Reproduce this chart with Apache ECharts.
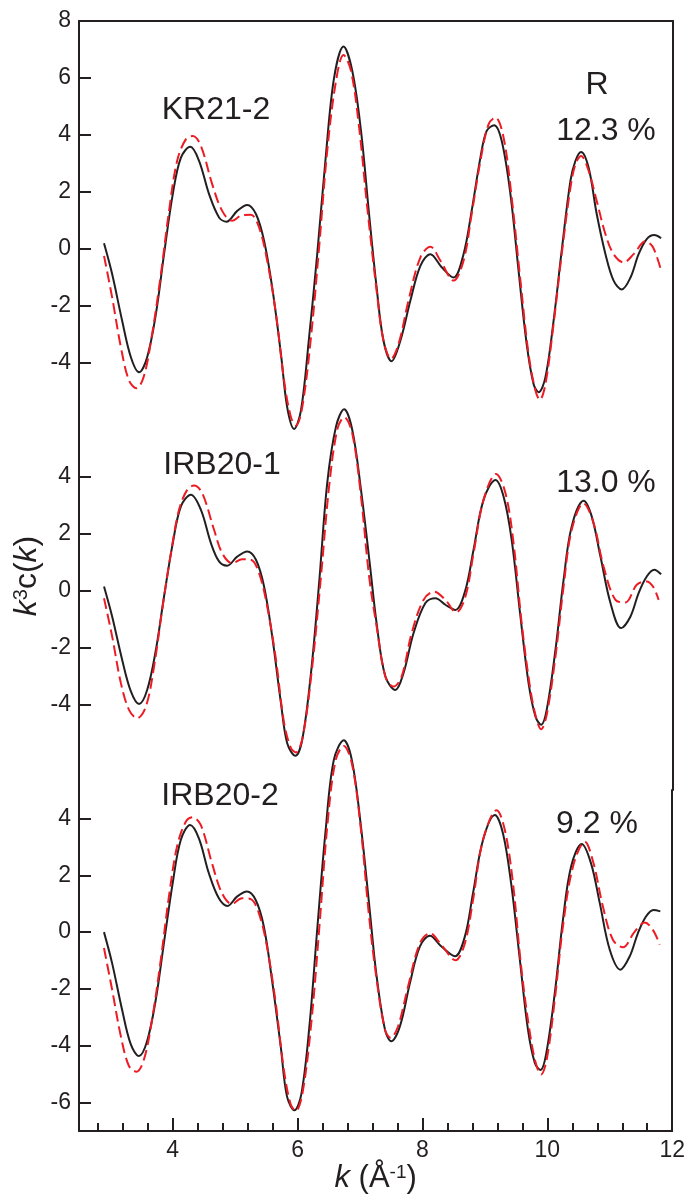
<!DOCTYPE html>
<html><head><meta charset="utf-8">
<script src="https://cdn.jsdelivr.net/npm/echarts@6/dist/echarts.min.js"></script>
<style>html,body{margin:0;padding:0;background:#fff}#c{width:688px;height:1195px}</style>
</head><body><div id="c"></div>
<script>
// ---- axis ticks / labels ----
const kMajorTicks = [4, 6, 8, 10, 12];
const kMinorTicks = [2.8, 3.2, 3.6, 4.4, 4.8, 5.2, 5.6, 6.4, 6.8, 7.2, 7.6, 8.4, 8.8, 9.2, 9.6, 10.4, 10.8, 11.2, 11.6];
const yTicksKR21_2 = [-4, -2, 0, 2, 4, 6, 8];
const yTicksIRB20_1 = [-4, -2, 0, 2, 4];
const yTicksIRB20_2 = [-6, -4, -2, 0, 2, 4];
const sampleNames = ['KR21-2', 'IRB20-1', 'IRB20-2'];
const rFactors = ['12.3 %', '13.0 %', '9.2 %'];

// ---- data: [k, k^3 chi(k)] ----
const expKR21_2 = [[2.90,0.19],[3.03,-0.89],[3.19,-2.53],[3.33,-3.81],[3.46,-4.34],[3.59,-3.81],[3.73,-2.29],[3.86,-0.19],[4.00,1.92],[4.13,3.20],[4.28,3.58],[4.42,3.09],[4.58,1.92],[4.74,1.10],[4.86,0.95],[5.03,1.33],[5.19,1.54],[5.33,1.22],[5.46,0.28],[5.59,-1.36],[5.73,-3.70],[5.83,-5.57],[5.94,-6.33],[6.05,-5.68],[6.18,-3.11],[6.31,-0.19],[6.45,3.32],[6.58,6.01],[6.73,7.10],[6.87,6.25],[7.01,4.14],[7.14,1.20],[7.26,-1.36],[7.37,-3.23],[7.50,-3.95],[7.64,-3.23],[7.80,-1.82],[7.96,-0.60],[8.12,-0.19],[8.30,-0.65],[8.49,-1.01],[8.65,-0.19],[8.78,1.33],[8.92,3.20],[9.02,4.14],[9.14,4.34],[9.26,3.79],[9.40,1.92],[9.53,-0.77],[9.66,-3.35],[9.77,-4.75],[9.85,-5.04],[9.96,-4.51],[10.09,-2.53],[10.22,-0.07],[10.36,2.39],[10.44,3.09],[10.53,3.40],[10.65,2.85],[10.78,1.22],[10.92,-0.19],[11.05,-1.12],[11.18,-1.43],[11.32,-1.01],[11.45,-0.19],[11.58,0.34],[11.70,0.48],[11.81,0.37]];
const fitKR21_2 = [[2.90,-0.25],[3.03,-1.71],[3.17,-3.46],[3.30,-4.63],[3.42,-4.90],[3.54,-4.46],[3.67,-2.99],[3.81,-0.89],[3.94,1.33],[4.07,3.09],[4.21,3.85],[4.32,3.96],[4.45,3.61],[4.63,2.27],[4.79,1.33],[4.95,0.98],[5.11,1.18],[5.25,1.19],[5.38,0.75],[5.51,-0.42],[5.65,-2.29],[5.78,-4.63],[5.89,-5.92],[5.97,-6.21],[6.07,-5.57],[6.21,-3.11],[6.34,0.05],[6.47,3.44],[6.61,5.89],[6.73,6.81],[6.85,6.25],[6.98,4.26],[7.11,1.45],[7.26,-1.47],[7.37,-3.23],[7.49,-3.87],[7.61,-3.35],[7.77,-1.82],[7.96,-0.30],[8.12,0.07],[8.28,-0.42],[8.49,-1.12],[8.65,-0.42],[8.78,1.22],[8.92,3.09],[9.05,4.37],[9.16,4.61],[9.29,3.91],[9.42,1.80],[9.56,-1.12],[9.69,-3.70],[9.80,-4.98],[9.87,-5.31],[9.96,-4.75],[10.09,-2.64],[10.22,-0.19],[10.36,2.15],[10.44,2.97],[10.53,3.26],[10.65,2.74],[10.78,1.68],[10.92,0.51],[11.05,-0.19],[11.21,-0.48],[11.37,-0.19],[11.56,0.26],[11.68,0.05],[11.81,-0.77]];
const expIRB20_1 = [[2.90,0.14],[3.03,-0.91],[3.19,-2.43],[3.33,-3.54],[3.46,-3.98],[3.59,-3.49],[3.73,-2.08],[3.86,-0.21],[4.00,1.66],[4.13,2.95],[4.29,3.36],[4.45,2.83],[4.61,1.66],[4.74,1.02],[4.87,0.87],[5.03,1.19],[5.19,1.37],[5.33,1.08],[5.46,0.14],[5.59,-1.61],[5.73,-3.95],[5.83,-5.36],[5.96,-5.80],[6.07,-5.24],[6.21,-2.90],[6.34,0.26],[6.47,3.77],[6.61,5.75],[6.74,6.36],[6.87,5.64],[7.01,3.53],[7.15,0.95],[7.26,-1.15],[7.40,-3.02],[7.56,-3.49],[7.69,-2.90],[7.85,-1.50],[8.04,-0.44],[8.20,-0.27],[8.36,-0.50],[8.52,-0.68],[8.68,0.02],[8.81,1.43],[8.97,3.18],[9.16,3.88],[9.29,3.30],[9.42,1.78],[9.56,-0.91],[9.69,-3.25],[9.80,-4.42],[9.89,-4.71],[9.98,-4.19],[10.12,-2.08],[10.25,0.37],[10.38,2.25],[10.57,3.15],[10.70,2.60],[10.84,1.19],[11.00,-0.44],[11.17,-1.32],[11.32,-0.91],[11.45,-0.09],[11.58,0.49],[11.70,0.73],[11.81,0.57]];
const fitIRB20_1 = [[2.90,-0.27],[3.03,-1.61],[3.17,-3.25],[3.30,-4.19],[3.43,-4.48],[3.57,-4.07],[3.70,-2.67],[3.83,-0.68],[3.97,1.31],[4.10,2.83],[4.23,3.53],[4.34,3.68],[4.47,3.42],[4.66,2.13],[4.79,1.31],[4.95,0.96],[5.11,1.10],[5.25,1.08],[5.38,0.61],[5.51,-0.56],[5.65,-2.43],[5.78,-4.65],[5.89,-5.53],[5.97,-5.68],[6.08,-5.12],[6.23,-2.67],[6.37,0.49],[6.50,3.65],[6.63,5.64],[6.74,6.08],[6.87,5.52],[7.01,3.30],[7.14,0.49],[7.26,-1.26],[7.40,-3.02],[7.53,-3.37],[7.66,-3.02],[7.82,-1.50],[8.01,-0.33],[8.18,-0.04],[8.36,-0.33],[8.53,-0.77],[8.68,-0.21],[8.81,1.31],[8.97,3.18],[9.17,4.09],[9.32,3.42],[9.45,1.66],[9.58,-1.15],[9.72,-3.49],[9.82,-4.54],[9.89,-4.87],[9.98,-4.36],[10.12,-2.32],[10.25,0.14],[10.38,2.13],[10.57,3.06],[10.73,2.36],[10.89,0.84],[11.08,-0.33],[11.24,-0.42],[11.42,0.20],[11.58,0.32],[11.68,0.14],[11.77,-0.33]];
const expIRB20_2 = [[2.90,0.00],[3.03,-1.09],[3.19,-2.73],[3.33,-3.95],[3.46,-4.36],[3.59,-3.84],[3.73,-2.37],[3.86,-0.39],[4.00,1.72],[4.13,3.24],[4.28,3.77],[4.42,3.30],[4.58,2.07],[4.74,1.19],[4.88,0.92],[5.03,1.25],[5.19,1.43],[5.33,1.13],[5.46,0.20],[5.59,-1.67],[5.73,-4.01],[5.83,-5.77],[5.95,-6.27],[6.06,-5.71],[6.19,-3.31],[6.31,-0.04],[6.45,3.59],[6.58,6.05],[6.74,6.75],[6.87,6.05],[7.01,3.82],[7.15,0.90],[7.26,-1.44],[7.40,-3.43],[7.50,-3.84],[7.64,-3.31],[7.80,-1.79],[7.96,-0.50],[8.12,-0.13],[8.30,-0.50],[8.52,-0.85],[8.68,-0.15],[8.81,1.37],[8.97,3.24],[9.16,4.12],[9.29,3.47],[9.42,1.72],[9.56,-0.97],[9.69,-3.43],[9.80,-4.60],[9.89,-4.85],[9.98,-4.30],[10.12,-2.14],[10.25,0.43],[10.38,2.30],[10.55,3.10],[10.70,2.42],[10.84,1.02],[11.00,-0.62],[11.17,-1.32],[11.32,-0.85],[11.45,-0.04],[11.58,0.55],[11.70,0.78],[11.81,0.73]];
const fitIRB20_2 = [[2.90,-0.56],[3.03,-2.02],[3.17,-3.66],[3.30,-4.71],[3.42,-4.91],[3.54,-4.48],[3.67,-3.08],[3.81,-0.97],[3.94,1.25],[4.07,3.01],[4.21,3.88],[4.32,4.04],[4.45,3.77],[4.63,2.42],[4.79,1.37],[4.95,0.99],[5.11,1.19],[5.25,1.16],[5.38,0.67],[5.51,-0.50],[5.65,-2.49],[5.78,-4.83],[5.89,-6.06],[5.97,-6.29],[6.08,-5.65],[6.22,-3.19],[6.35,0.20],[6.48,3.82],[6.61,6.05],[6.74,6.55],[6.87,5.93],[7.01,3.71],[7.14,0.67],[7.26,-1.56],[7.40,-3.43],[7.49,-3.72],[7.61,-3.31],[7.77,-1.91],[7.96,-0.39],[8.12,-0.04],[8.30,-0.44],[8.53,-0.99],[8.68,-0.39],[8.81,1.13],[8.97,3.24],[9.19,4.29],[9.32,3.59],[9.45,1.72],[9.58,-1.20],[9.72,-3.54],[9.82,-4.65],[9.90,-5.01],[9.99,-4.48],[10.12,-2.37],[10.25,0.20],[10.41,2.30],[10.60,3.18],[10.74,2.42],[10.89,0.90],[11.05,-0.27],[11.21,-0.53],[11.40,0.02],[11.56,0.34],[11.69,0.08],[11.80,-0.44]];

// ---- styling ----
const INK = '#231f20';
const RED = '#ed1c24';
const FONT = '"Liberation Sans", Arial, Helvetica, sans-serif';
const kMin = 2.5, kMax = 12;
const panels = [
  { exp: expKR21_2, fit: fitKR21_2, yMin: -7, yMax: 8, ticks: yTicksKR21_2 },
  { exp: expIRB20_1, fit: fitIRB20_1, yMin: -7, yMax: 5, ticks: yTicksIRB20_1 },
  { exp: expIRB20_2, fit: fitIRB20_2, yMin: -7, yMax: 5, ticks: yTicksIRB20_2 }
];
const grids = [
  { left: 79, right: 15, top: 21, height: 427 },
  { left: 79, right: 15, top: 448, height: 342 },
  { left: 79, right: 15, top: 790, height: 342 }
];

const xAxes = [], yAxes = [], series = [];
panels.forEach((p, i) => {
  xAxes.push({ type: 'value', gridIndex: i, min: kMin, max: kMax, show: false });
  yAxes.push({
    type: 'value', gridIndex: i, min: p.yMin, max: p.yMax, position: 'left',
    axisLine: { show: true, onZero: false, lineStyle: { color: INK, width: 2 } },
    axisTick: { show: true, inside: true, length: 12, customValues: p.ticks, lineStyle: { color: INK, width: 2 } },
    axisLabel: { show: true, customValues: p.ticks, fontSize: 23, fontFamily: FONT, color: INK, margin: 8 },
    splitLine: { show: false }
  });
});
panels.forEach((p, i) => {
  yAxes.push({
    type: 'value', gridIndex: i, min: p.yMin, max: p.yMax, position: 'right',
    axisLine: { show: true, onZero: false, lineStyle: { color: INK, width: 2 } },
    axisTick: { show: false }, axisLabel: { show: false }, splitLine: { show: false }
  });
});
// bottom axis with major ticks + labels
xAxes.push({
  type: 'value', gridIndex: 2, min: kMin, max: kMax, position: 'bottom',
  axisLine: { show: true, onZero: false, lineStyle: { color: INK, width: 2 } },
  axisTick: { show: true, inside: true, length: 13, customValues: kMajorTicks, lineStyle: { color: INK, width: 2 } },
  axisLabel: { show: true, customValues: kMajorTicks, fontSize: 23, fontFamily: FONT, color: INK, margin: 8 },
  splitLine: { show: false },
  name: '{i|k} (Å{s|-1})', nameLocation: 'middle', nameGap: 21,
  nameTextStyle: {
    fontSize: 31, fontFamily: FONT, color: INK,
    rich: {
      i: { fontStyle: 'italic', fontSize: 31, fontFamily: FONT, color: INK },
      s: { fontSize: 19, fontFamily: FONT, color: INK, verticalAlign: 'top' }
    }
  }
});
// bottom axis minor ticks
xAxes.push({
  type: 'value', gridIndex: 2, min: kMin, max: kMax, position: 'bottom',
  axisLine: { show: false, onZero: false },
  axisTick: { show: true, inside: true, length: 8, customValues: kMinorTicks, lineStyle: { color: INK, width: 2 } },
  axisLabel: { show: false }, splitLine: { show: false }
});
// top frame line
xAxes.push({
  type: 'value', gridIndex: 0, min: kMin, max: kMax, position: 'top',
  axisLine: { show: true, onZero: false, lineStyle: { color: INK, width: 2 } },
  axisTick: { show: false }, axisLabel: { show: false }, splitLine: { show: false }
});

panels.forEach((p, i) => {
  series.push({
    type: 'line', xAxisIndex: i, yAxisIndex: i, data: p.exp, smooth: 0.35, clip: false,
    showSymbol: false, symbol: 'none', z: 3,
    lineStyle: { color: INK, width: 2 }
  });
  series.push({
    type: 'line', xAxisIndex: i, yAxisIndex: i, data: p.fit, smooth: 0.35, clip: false,
    showSymbol: false, symbol: 'none', z: 4,
    lineStyle: { color: RED, width: 2, type: [11, 5] }
  });
});

const txt = (x, y, t) => ({
  type: 'text', x: x, y: y, z: 10,
  style: { text: t, fontSize: 32, fontFamily: FONT, fill: INK, align: 'center', verticalAlign: 'middle' }
});

const option = {
  backgroundColor: '#fff',
  animation: false,
  grid: grids,
  xAxis: xAxes,
  yAxis: yAxes,
  series: series,
  graphic: [
    txt(216, 110, sampleNames[0]),
    txt(222, 465, sampleNames[1]),
    txt(220, 796, sampleNames[2]),
    txt(597, 85, 'R'),
    txt(606, 131, rFactors[0]),
    txt(606, 483, rFactors[1]),
    txt(597, 824, rFactors[2]),
    {
      type: 'text', x: 27, y: 576, rotation: Math.PI / 2, z: 10,
      style: {
        text: '{i|k}{s|3}{n|c(}{i|k}{n|)}',
        fontSize: 32, fontFamily: FONT, fill: INK, align: 'center', verticalAlign: 'middle',
        rich: {
          i: { fontStyle: 'italic', fontSize: 32, fontFamily: FONT, fill: INK },
          n: { fontSize: 32, fontFamily: FONT, fill: INK },
          s: { fontSize: 20, fontFamily: FONT, fill: INK, verticalAlign: 'top' }
        }
      }
    }
  ]
};
const chart = echarts.init(document.getElementById('c'), null, { renderer: 'canvas' });
chart.setOption(option);
</script>
</body></html>
